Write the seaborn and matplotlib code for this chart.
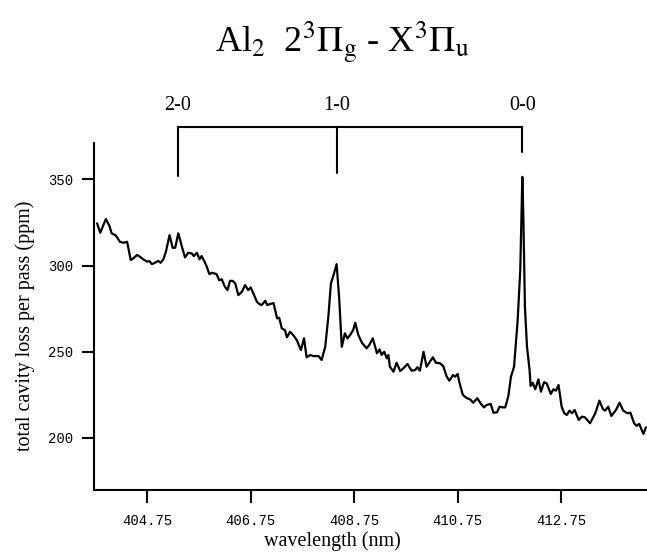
import matplotlib
matplotlib.use("Agg")
import matplotlib.pyplot as plt
import seaborn as sns
import pandas as pd

# ---- data ----
wavelength_nm = [
    403.78, 403.84, 403.95, 404.02, 404.06, 404.13, 404.16, 404.22, 404.29, 404.36,
    404.43, 404.48, 404.55, 404.61, 404.67, 404.75, 404.79, 404.84, 404.90, 404.96,
    405.01, 405.06, 405.11, 405.18, 405.24, 405.29, 405.35, 405.42, 405.48, 405.54,
    405.61, 405.65, 405.71, 405.76, 405.80, 405.85, 405.90, 405.95, 406.00, 406.09,
    406.14, 406.19, 406.25, 406.30, 406.35, 406.40, 406.45, 406.51, 406.58, 406.64,
    406.70, 406.75, 406.80, 406.87, 406.92, 406.96, 407.03, 407.07, 407.12, 407.19,
    407.26, 407.30, 407.35, 407.41, 407.45, 407.51, 407.57, 407.64, 407.72, 407.78,
    407.83, 407.90, 407.96, 408.06, 408.12, 408.19, 408.25, 408.30, 408.35, 408.41,
    408.46, 408.51, 408.57, 408.62, 408.67, 408.73, 408.77, 408.83, 408.90, 408.99,
    409.04, 409.11, 409.19, 409.24, 409.28, 409.33, 409.38, 409.41, 409.44, 409.51,
    409.57, 409.64, 409.70, 409.78, 409.86, 409.93, 409.97, 410.02, 410.09, 410.15,
    410.27, 410.33, 410.41, 410.47, 410.54, 410.59, 410.66, 410.70, 410.75, 410.78,
    410.85, 410.93, 410.99, 411.05, 411.13, 411.20, 411.26, 411.31, 411.39, 411.44,
    411.51, 411.56, 411.62, 411.67, 411.73, 411.78, 411.84, 411.91, 411.96, 412.00,
    412.02, 412.05, 412.09, 412.14, 412.16, 412.20, 412.25, 412.31, 412.36, 412.42,
    412.47, 412.55, 412.60, 412.65, 412.70, 412.76, 412.81, 412.86, 412.91, 412.96,
    413.01, 413.09, 413.15, 413.21, 413.31, 413.41, 413.49, 413.56, 413.60, 413.66,
    413.72, 413.81, 413.88, 413.95, 414.03, 414.09, 414.16, 414.21, 414.26, 414.34,
    414.39,
]
loss_ppm = [
    324.5, 319.0, 327.0, 322.9, 318.7, 317.7, 316.7, 313.8, 313.2, 313.8,
    303.2, 304.1, 306.1, 305.1, 303.6, 302.2, 302.6, 300.8, 301.6, 302.7,
    301.6, 303.6, 308.0, 317.7, 310.3, 310.3, 318.7, 310.9, 304.7, 307.4,
    307.0, 305.5, 307.4, 303.6, 305.5, 302.7, 299.3, 295.0, 295.8, 295.0,
    291.5, 292.0, 287.7, 285.7, 291.1, 291.1, 289.6, 282.8, 284.8, 288.6,
    285.7, 287.3, 283.8, 278.9, 277.6, 277.0, 279.5, 277.0, 277.6, 278.2,
    269.3, 269.7, 263.5, 262.5, 258.3, 261.5, 259.6, 256.7, 250.9, 257.7,
    246.7, 248.0, 247.4, 247.4, 245.1, 252.8, 270.2, 289.6, 294.4, 300.8,
    280.9, 252.8, 260.6, 257.7, 259.6, 262.5, 266.8, 259.6, 255.1, 251.9,
    253.8, 257.7, 249.0, 251.3, 248.0, 249.9, 246.1, 248.0, 241.2, 238.3,
    243.5, 238.7, 240.3, 242.8, 238.9, 239.3, 240.9, 238.9, 249.9, 241.2,
    246.7, 243.5, 243.2, 241.6, 235.4, 233.1, 236.4, 235.4, 237.0, 232.5,
    224.8, 222.9, 222.3, 220.3, 222.9, 219.6, 217.6, 219.0, 219.6, 214.5,
    214.7, 218.0, 217.6, 217.6, 224.2, 235.4, 241.2, 268.3, 297.3, 351.5,
    328.3, 276.0, 252.8, 239.3, 230.0, 231.9, 228.1, 233.9, 226.7, 232.2,
    231.6, 225.4, 228.1, 227.3, 230.6, 218.0, 214.2, 213.2, 215.7, 214.2,
    216.1, 210.3, 212.2, 211.8, 208.4, 214.2, 221.5, 216.5, 215.7, 218.0,
    212.6, 216.1, 220.3, 215.7, 214.2, 214.5, 208.4, 206.8, 208.0, 202.2,
    206.0,
]
x_ticks = [404.75, 406.75, 408.75, 410.75, 412.75]
x_tick_labels = ["404.75", "406.75", "408.75", "410.75", "412.75"]
y_ticks = [200, 250, 300, 350]
band_labels = ["2-0", "1-0", "0-0"]
band_wavelengths = [405.34, 408.42, 412.00]

df = pd.DataFrame({"wavelength": wavelength_nm, "loss": loss_ppm})

# ---- styling ----
sns.set_style("ticks")
plt.rcParams["font.family"] = ["Liberation Serif", "DejaVu Serif"]
plt.rcParams["mathtext.fontset"] = "stix"
plt.rcParams["text.color"] = "black"
plt.rcParams["axes.labelcolor"] = "black"
plt.rcParams["xtick.color"] = "black"
plt.rcParams["ytick.color"] = "black"

fig = plt.figure(figsize=(6.47, 5.55), dpi=100)
ax = fig.add_axes([94 / 647, 1 - 490 / 555, 1 - 94 / 647, (490 - 143.3) / 555])

sns.lineplot(data=df, x="wavelength", y="loss", ax=ax, color="black",
             linewidth=1.6, estimator=None, sort=False)

ax.set_xlim(403.72, 414.41)
ax.set_ylim(169.6, 371.0)
ax.set_xticks(x_ticks)
ax.set_xticklabels(x_tick_labels)
ax.set_yticks(y_ticks)
for lab in ax.get_xticklabels() + ax.get_yticklabels():
    lab.set_fontfamily("Liberation Mono")
    lab.set_fontsize(10)
    lab.set_color("black")
ax.tick_params(axis="both", direction="out", length=9, width=1.5, color="black")
ax.tick_params(axis="x", pad=8)
ax.tick_params(axis="y", pad=6)

sns.despine(ax=ax, top=True, right=True)
for side in ("left", "bottom"):
    ax.spines[side].set_linewidth(1.5)
    ax.spines[side].set_color("black")

ax.set_xlabel("wavelength (nm)", fontsize=14.5, color="black")
ax.set_ylabel("total cavity loss per pass (ppm)", fontsize=14.5, color="black")
ax.xaxis.set_label_coords((332 - 94) / 553, (490 - 541) / 346.7)
ax.xaxis.label.set_va("center")
ax.yaxis.set_label_coords((25 - 94) / 553, (490 - 326) / 346.7)
ax.yaxis.label.set_va("center")

# ---- band bracket (above the plotting area) ----
bracket_y = 380.4
bottoms = [351.9, 353.7, 365.8]
ax.plot([band_wavelengths[0], band_wavelengths[-1]], [bracket_y, bracket_y],
        color="black", lw=1.5, clip_on=False, solid_capstyle="projecting")
for bx, by, lab in zip(band_wavelengths, bottoms, band_labels):
    ax.plot([bx, bx], [bracket_y, by], color="black", lw=1.5, clip_on=False)
    ax.text(bx, 393, lab, ha="center", va="center", fontsize=14.5, clip_on=False)

fig.text(342 / 647, 1 - 42 / 555,
         r"Al$_2$  2$^3\Pi_\mathrm{g}$ - X$^3\Pi_\mathrm{u}$",
         ha="center", va="center", fontsize=26)

fig.savefig("out.png", dpi=100)
